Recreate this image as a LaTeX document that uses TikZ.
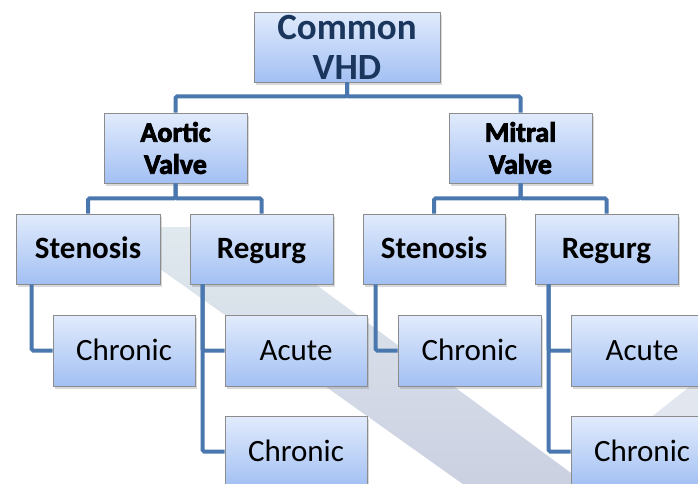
\documentclass[tikz,border=0pt]{standalone}
\usepackage{fontspec}
\setmainfont{Carlito}
\newfontfamily\glowfont[UprightFont={* Bold}, UprightFeatures={FakeBold=3}]{Carlito}
\usetikzlibrary{shadows,calc}
\definecolor{boxtop}{HTML}{E1EBFC}
\definecolor{boxbot}{HTML}{A3C0F3}
\definecolor{boxline}{HTML}{8C8C8C}
\definecolor{connblue}{HTML}{4A78AE}
\definecolor{navy}{HTML}{1B365D}
\definecolor{bandtop}{HTML}{E0E9EE}
\definecolor{bandbot}{HTML}{CBD0E1}
\definecolor{bandlight}{HTML}{E2E6EF}
\begin{document}
\begin{tikzpicture}[x=1pt,y=-1pt,
  box/.style={draw=boxline, line width=0.8pt, top color=boxtop, bottom color=boxbot,
    inner sep=0pt, align=center, minimum height=70pt,
    drop shadow={shadow xshift=2pt,shadow yshift=-3pt,opacity=0.3}},
  conn/.style={draw=connblue, line width=4pt, rounded corners=1.5pt},
  toptext/.style={font=\fontsize{37}{40}\selectfont\bfseries, text=navy},
  valvetext/.style={font=\glowfont\fontsize{28}{32}\selectfont, text=black},
  midtext/.style={font=\fontsize{31}{36}\selectfont\bfseries, text=black,
    text height=21pt, text depth=3pt},
  leaftext/.style={font=\fontsize{31}{36}\selectfont, text=black,
    text height=22pt, text depth=3pt}]
\useasboundingbox (0,0) rectangle (698,483);
\clip (0,0) rectangle (698,483);
% background band
\shade[top color=bandtop, bottom color=bandbot] (101,227) -- (238,227) -- (590,487) -- (467,487) -- cycle;
\fill[bandlight] (698,380) -- (650,418) -- (650,487) -- (698,487) -- cycle;
% node placement
\path
  (347,47) coordinate (ptop)
  (175.5,148) coordinate (paort)
  (520.5,148) coordinate (pmitr)
  (88,249) coordinate (pst1)
  (261.5,249) coordinate (prg1)
  (434,249) coordinate (pst2)
  (606.5,249) coordinate (prg2)
  (124,350.5) coordinate (pch1)
  (296,350.5) coordinate (pac1)
  (296,451.5) coordinate (pcr1)
  (469.5,350.5) coordinate (pch2)
  (642,350.5) coordinate (pac2)
  (642,451.5) coordinate (pcr2);
\node[box, minimum width=186pt, toptext] (top) at (ptop) {Common\\VHD};
\node[box, minimum width=143pt, valvetext] (aort) at (paort) {Aortic\\Valve};
\node[box, minimum width=143pt, valvetext] (mitr) at (pmitr) {Mitral\\Valve};
\node[box, minimum width=144pt, midtext] (st1) at (pst1) {Stenosis};
\node[box, minimum width=143pt, midtext] (rg1) at (prg1) {Regurg};
\node[box, minimum width=142pt, midtext] (st2) at (pst2) {Stenosis};
\node[box, minimum width=143pt, midtext] (rg2) at (prg2) {Regurg};
\node[box, minimum width=142pt, minimum height=71pt, leaftext] (ch1) at (pch1) {Chronic};
\node[box, minimum width=142pt, minimum height=71pt, leaftext] (ac1) at (pac1) {Acute};
\node[box, minimum width=142pt, minimum height=71pt, leaftext] (cr1) at (pcr1) {Chronic};
\node[box, minimum width=143pt, minimum height=71pt, leaftext] (ch2) at (pch2) {Chronic};
\node[box, minimum width=142pt, minimum height=71pt, leaftext] (ac2) at (pac2) {Acute};
\node[box, minimum width=142pt, minimum height=71pt, leaftext] (cr2) at (pcr2) {Chronic};
% connectors
\draw[conn] (top.south) -- ++(0,14) -| (aort.north);
\draw[conn] (top.south) -- ++(0,14) -| (mitr.north);
\draw[conn] (aort.south) -- ++(0,15) -| (st1.north);
\draw[conn] (aort.south) -- ++(0,15) -| (rg1.north);
\draw[conn] (mitr.south) -- ++(0,15) -| (st2.north);
\draw[conn] (mitr.south) -- ++(0,15) -| (rg2.north);
\draw[conn] ($(st1.south west)+(16,0)$) |- (ch1.west);
\draw[conn] ($(rg1.south west)+(13,0)$) |- (ac1.west);
\draw[conn] ($(rg1.south west)+(13,0)$) |- (cr1.west);
\draw[conn] ($(st2.south west)+(13,0)$) |- (ch2.west);
\draw[conn] ($(rg2.south west)+(14,0)$) |- (ac2.west);
\draw[conn] ($(rg2.south west)+(14,0)$) |- (cr2.west);
\end{tikzpicture}
\end{document}
